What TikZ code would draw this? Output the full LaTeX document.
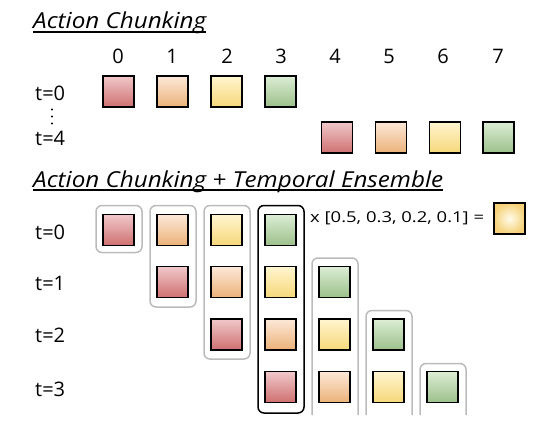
\documentclass[tikz,border=0pt]{standalone}
\usepackage{fontspec}
\setmainfont{Open Sans}
\newfontfamily\widefont[FakeStretch=1.1]{Open Sans}
\newfontfamily\widerfont[FakeStretch=1.23]{Open Sans}
\usetikzlibrary{calc}
\definecolor{rT}{HTML}{F0C8CA}
\definecolor{rB}{HTML}{CF7070}
\definecolor{oT}{HTML}{FCE8D8}
\definecolor{oB}{HTML}{EBB279}
\definecolor{yT}{HTML}{FFF5CF}
\definecolor{yB}{HTML}{F6D87A}
\definecolor{gT}{HTML}{DCEDD5}
\definecolor{gB}{HTML}{9CC08A}
\definecolor{gBox}{HTML}{BBBBBB}
\definecolor{yIn}{HTML}{FFFBEA}
\definecolor{yOut}{HTML}{F5D27A}
\begin{document}
\begin{tikzpicture}[x=1pt,y=-1pt,
  sq/.style={minimum size=31pt,inner sep=0pt,line width=1.4pt,draw=black},
  sqR/.style={sq,top color=rT,bottom color=rB},
  sqO/.style={sq,top color=oT,bottom color=oB},
  sqY/.style={sq,top color=yT,bottom color=yB},
  sqG/.style={sq,top color=gT,bottom color=gB},
  sqAvg/.style={sq,inner color=yIn,outer color=yOut},
  lbl/.style={font=\fontsize{20}{24}\selectfont,inner sep=0pt,anchor=base west},
  num/.style={font=\fontsize{20}{24}\selectfont,inner sep=0pt,anchor=base},
  ttl/.style={font=\widefont\fontsize{22}{26}\selectfont\itshape,inner sep=0pt,anchor=base west},
  small/.style={font=\widerfont\fontsize{15}{18}\selectfont,inner sep=0pt,anchor=west},
  uline/.style={line width=1.8pt},
  gbox/.style={draw=gBox,line width=1.5pt,rounded corners=6pt},
  kbox/.style={draw=black,line width=1.5pt,rounded corners=6pt},
  dot/.style={fill=black}]
\useasboundingbox (0,0) rectangle (544,428);

% ---------- Title 1 ----------
\node[ttl] (t1) at (33,29) {Action Chunking};
\draw[uline] ($(t1.base west)+(0,3)$) -- ($(t1.base east)+(0,3)$);

% column numbers
\foreach \i/\x in {0/118,1/172,2/227,3/281,4/335,5/389,6/443,7/498}
  \node[num] (n\i) at (\x,63.5) {\i};

% row labels
\node[lbl] (la0) at (35,100) {t=0};
\node[lbl] (la4) at (35,146) {t=4};
\foreach \y in {109.5,116.5,123.5}
  \fill[dot] (52,\y) circle (1.1);

% top row squares
\node[sqR] (a00) at (118.5,91.5) {};
\node[sqO] (a01) at (172.5,91.5) {};
\node[sqY] (a02) at (226.5,91.5) {};
\node[sqG] (a03) at (280.5,91.5) {};
\node[sqR] (a44) at (337,137.5) {};
\node[sqO] (a45) at (391,137.5) {};
\node[sqY] (a46) at (445,137.5) {};
\node[sqG] (a47) at (498.5,137.5) {};

% ---------- Title 2 ----------
\node[ttl] (t2) at (33,187) {Action Chunking + Temporal Ensemble};
\draw[uline] ($(t2.base west)+(0,3)$) -- ($(t2.base east)+(0,3)$);

% row labels
\node[lbl] (lb0) at (35,239.5) {t=0};
\node[lbl] (lb1) at (35,290.5) {t=1};
\node[lbl] (lb2) at (35,342.5) {t=2};
\node[lbl] (lb3) at (35,396) {t=3};

% group boxes (columns)
\draw[gbox] (96,205.5) rectangle (142,252.5);
\draw[gbox] (150,205.5) rectangle (196,307);
\draw[gbox] (204,205.5) rectangle (250,359);
\draw[kbox] (258,205.5) rectangle (304,413);
\draw[gbox] (312,415) -- (312,258) -- (358,258) -- (358,415);
\draw[gbox] (366,415) -- (366,310.5) -- (412,310.5) -- (412,415);
\draw[gbox] (420,415) -- (420,363.5) -- (466,363.5) -- (466,415);

% squares
\foreach \r/\y in {0/230,1/282,2/334.5,3/387}{
  \pgfmathsetmacro{\xa}{118.5+54*\r}
  \pgfmathsetmacro{\xb}{172.5+54*\r}
  \pgfmathsetmacro{\xc}{226.5+54*\r}
  \pgfmathsetmacro{\xd}{280.5+54*\r}
  \node[sqR] (b\r0) at (\xa,\y) {};
  \node[sqO] (b\r1) at (\xb,\y) {};
  \node[sqY] (b\r2) at (\xc,\y) {};
  \node[sqG] (b\r3) at (\xd,\y) {};
}

% weights and average
\node[small] (w) at (310,218) {x [0.5, 0.3, 0.2, 0.1] =};
\node[sqAvg] (avg) at (509.5,218.5) {};
\end{tikzpicture}
\end{document}
